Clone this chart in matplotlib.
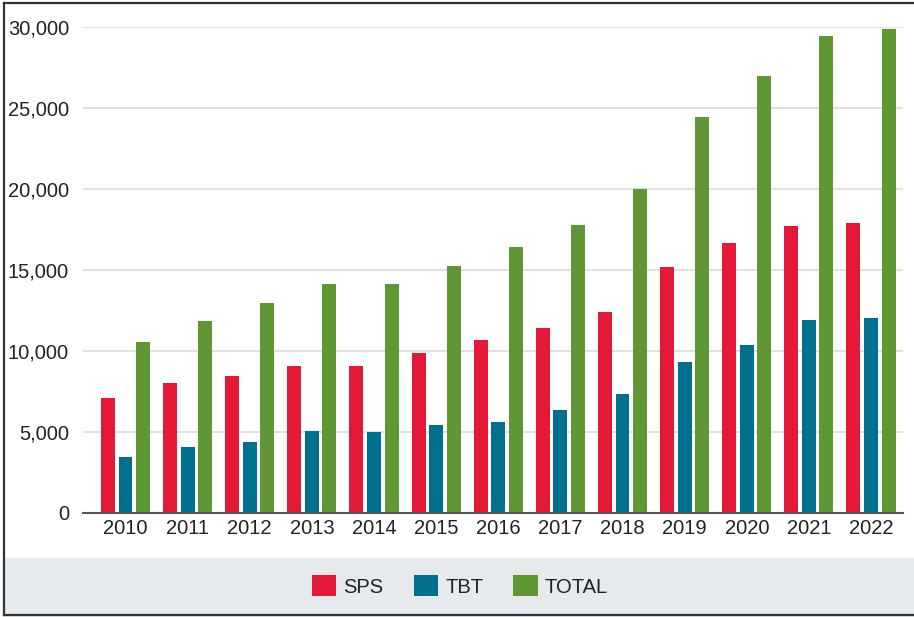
import matplotlib
matplotlib.use("Agg")
import matplotlib.pyplot as plt
from matplotlib.lines import Line2D
from matplotlib.patches import Rectangle
import numpy as np

years = ["2010", "2011", "2012", "2013", "2014", "2015", "2016",
         "2017", "2018", "2019", "2020", "2021", "2022"]
sps = [7100, 7970, 8460, 9020, 9020, 9880, 10680, 11420, 12400, 15170, 16650, 17690, 17880]
tbt = [3420, 4030, 4340, 5050, 5000, 5380, 5570, 6310, 7290, 9320, 10370, 11910, 12030]
total = [10550, 11850, 12950, 14120, 14120, 15230, 16400, 17750, 19970, 24400, 26980, 29450, 29880]

SERIES = [
    ("SPS", sps, "#E31937"),
    ("TBT", tbt, "#00708F"),
    ("TOTAL", total, "#5F9734"),
]

plt.rcParams["font.family"] = ["Liberation Sans", "DejaVu Sans"]

W, H = 914, 617
fig = plt.figure(figsize=(W / 100, H / 100), dpi=100)
fig.patch.set_facecolor("white")

# axes box in pixels: left 83, right 903, top 26.7 (30k), bottom 512.5 (0)
ax = fig.add_axes([83 / W, 1 - 512.5 / H, (903 - 83) / W, (512.5 - 26.7) / H])
ax.set_facecolor("white")

x = np.arange(len(years))
offsets = [-0.282, 0.0, 0.282]
for (name, vals, color), off in zip(SERIES, offsets):
    ax.bar(x + off, vals, width=0.225, color=color, label=name, zorder=3)

ax.set_xlim(-0.684, 12.515)
ax.set_ylim(0, 30000)
ax.set_yticks(range(0, 30001, 5000))
ax.set_yticklabels([f"{v:,}" for v in range(0, 30001, 5000)])
ax.set_xticks(x)
ax.set_xticklabels(years)
ax.tick_params(axis="both", length=0, labelsize=14.5, colors="#222222")
ax.tick_params(axis="y", pad=10)
ax.tick_params(axis="x", pad=5)

ax.grid(axis="y", color="#dcdcdc", linewidth=1.2, zorder=0)
for side in ["top", "right", "left"]:
    ax.spines[side].set_visible(False)
ax.spines["bottom"].set_color("#555555")
ax.spines["bottom"].set_linewidth(1.5)
ax.spines["bottom"].set_zorder(4)

# grey legend band and outer border
fig.patches.append(Rectangle((4 / W, 0), 1, (H - 557.7) / H, transform=fig.transFigure,
                             facecolor="#E6EAED", edgecolor="none", zorder=0))
for xs, ys in [([4, 4], [3, 615]), ([4, W], [3, 3]), ([4, W], [615, 615])]:
    fig.add_artist(Line2D([v / W for v in xs], [1 - v / H for v in ys],
                          color="#333333", linewidth=1.6))

handles, labels = ax.get_legend_handles_labels()
fig.legend(handles, labels, loc="center", bbox_to_anchor=(460 / W, 1 - 586 / H),
           ncol=3, frameon=False, fontsize=14.5, handlelength=1.2, handleheight=1.2,
           handletextpad=0.35, columnspacing=1.5, labelcolor="#222222")

fig.savefig("out.png", dpi=100)
